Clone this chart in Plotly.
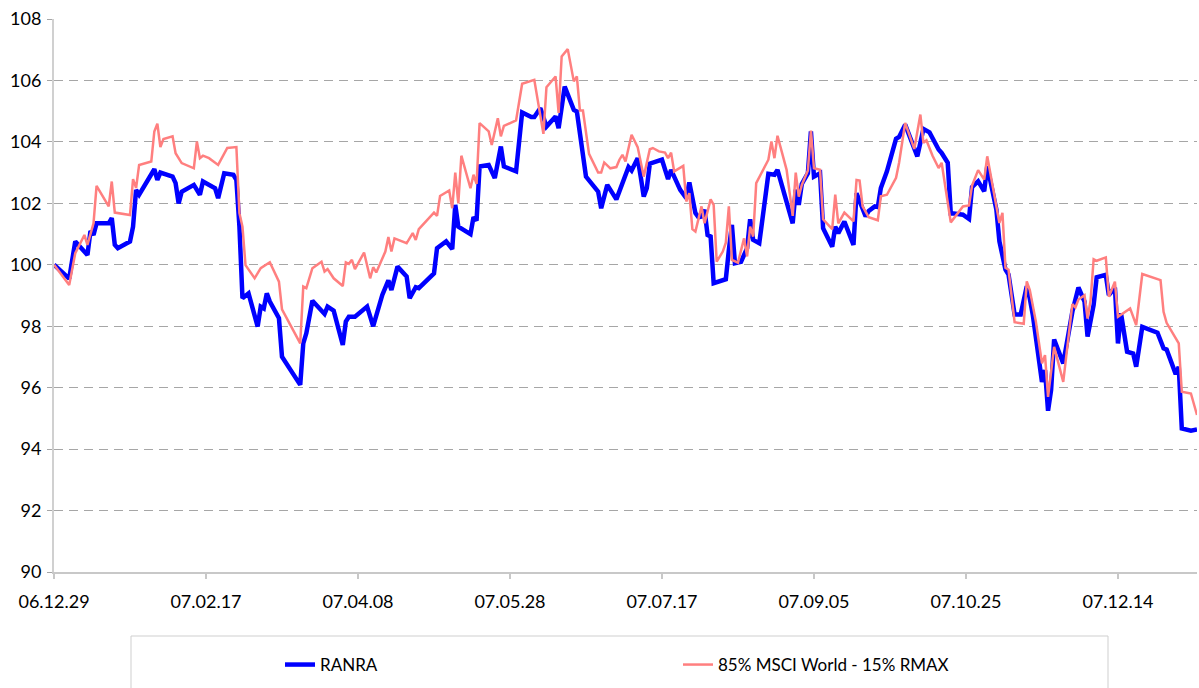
import pandas as pd
import plotly.graph_objects as go

START = "2006-12-29"

# RANRA: days since 2006-12-29 and index values
ranra_days = [0, 5, 7, 11, 12, 13, 14, 18, 19, 20, 21, 25, 26, 27, 28, 33, 34, 35, 39, 40,
              41, 42, 46, 48, 49, 53, 54, 56, 59, 60, 61, 62, 64, 67, 68, 69, 70, 71, 74, 75,
              81, 82, 83, 85, 89, 90, 92, 95, 96, 97, 99, 103, 105, 108, 110, 111, 113, 116, 117, 119,
              120, 125, 126, 129, 131, 132, 133, 137, 138, 139, 140, 143, 145, 147, 148, 152, 154, 157, 158, 160,
              162, 165, 166, 168, 171, 172, 175, 178, 179, 180, 182, 185, 189, 190, 192, 193, 194, 195, 196, 200,
              202, 203, 204, 206, 208, 209, 211, 212, 213, 214, 215, 216, 217, 221, 222, 223, 224, 226, 228, 229,
              230, 232, 235, 237, 238, 241, 243, 244, 245, 246, 248, 249, 250, 252, 253, 256, 257, 258, 260, 263,
              264, 267, 268, 270, 271, 272, 274, 277, 278, 280, 284, 286, 288, 291, 292, 294, 295, 296, 299, 301,
              302, 304, 306, 307, 310, 311, 313, 314, 316, 318, 320, 321, 322, 325, 326, 327, 328, 329, 332, 335,
              337, 339, 340, 342, 343, 346, 347, 349, 350, 351, 353, 355, 356, 358, 363, 365, 366, 369, 370, 371,
              374, 376]
ranra_vals = [100.0, 99.55, 100.76, 100.32, 101.1, 100.97, 101.35, 101.35, 101.52, 100.65, 100.54, 100.76, 101.24, 102.44, 102.28, 103.11, 102.76, 103.0, 102.87, 102.66,
              102.0, 102.38, 102.6, 102.28, 102.71, 102.49, 102.17, 102.98, 102.93, 102.76, 101.24, 98.91, 99.07, 97.99, 98.64, 98.58, 99.07, 98.8, 98.26, 97.01,
              96.09, 97.44, 97.77, 98.83, 98.4, 98.64, 98.51, 97.39, 98.15, 98.31, 98.31, 98.64, 98.0, 99.02, 99.49, 99.18, 99.94, 99.62, 98.91, 99.27,
              99.24, 99.72, 100.54, 100.76, 100.51, 101.95, 101.24, 101.0, 101.55, 101.44, 103.2, 103.25, 102.82, 103.85, 103.2, 103.04, 104.96, 104.81, 104.81, 105.1,
              104.5, 104.83, 104.45, 105.8, 105.04, 104.99, 102.87, 102.46, 102.38, 101.84, 102.6, 102.13, 103.18, 103.07, 103.47, 102.87, 102.22, 102.49, 103.29, 103.42,
              102.79, 103.09, 102.87, 102.44, 102.17, 102.68, 101.68, 101.55, 101.57, 101.79, 100.97, 100.92, 99.4, 99.53, 100.48, 101.3, 100.05, 100.1, 100.54, 101.48,
              100.81, 100.7, 102.96, 102.93, 103.09, 102.11, 101.35, 102.44, 101.95, 102.63, 102.98, 104.34, 102.87, 102.98, 101.19, 100.59, 101.24, 101.03, 101.41, 100.65,
              102.33, 101.57, 101.75, 101.9, 101.88, 102.5, 103.04, 104.1, 104.16, 104.56, 103.53, 104.42, 104.31, 103.75, 103.64, 103.32, 101.67, 101.67, 101.63, 101.49,
              102.53, 102.72, 102.39, 103.21, 101.8, 100.76, 99.84, 99.68, 98.38, 98.38, 99.3, 98.9, 98.36, 96.19, 96.57, 95.25, 95.92, 97.57, 96.79, 98.47,
              99.26, 98.8, 97.66, 98.69, 99.59, 99.67, 99.01, 99.26, 97.44, 98.42, 97.17, 97.11, 96.68, 97.98, 97.79, 97.28, 97.24, 96.44, 96.68, 94.67,
              94.6, 94.64]

# 85% MSCI World - 15% RMAX
bench_days = [0, 5, 7, 10, 11, 13, 14, 18, 19, 20, 25, 26, 27, 28, 32, 33, 34, 35, 36, 39,
              40, 42, 46, 47, 48, 49, 51, 54, 57, 60, 61, 62, 63, 66, 68, 71, 74, 75, 81, 82,
              83, 85, 88, 89, 90, 92, 95, 96, 97, 98, 99, 102, 104, 105, 106, 109, 110, 111, 112, 116,
              118, 119, 120, 125, 126, 127, 130, 131, 132, 133, 134, 137, 138, 139, 140, 143, 144, 146, 147, 148,
              152, 153, 154, 158, 159, 161, 162, 165, 166, 167, 169, 171, 172, 173, 174, 176, 179, 180, 181, 183,
              185, 186, 187, 188, 190, 192, 194, 196, 197, 199, 201, 202, 203, 204, 207, 208, 209, 210, 211, 213,
              214, 216, 217, 218, 220, 221, 222, 223, 225, 227, 228, 229, 230, 231, 235, 236, 237, 238, 241, 243,
              244, 245, 246, 248, 249, 250, 252, 253, 256, 257, 258, 260, 263, 264, 265, 266, 268, 271, 272, 274,
              277, 278, 280, 283, 285, 286, 287, 289, 291, 292, 295, 299, 301, 302, 304, 306, 307, 311, 312, 313,
              314, 316, 319, 320, 321, 323, 325, 326, 327, 329, 332, 335, 336, 337, 339, 340, 341, 342, 343, 346,
              347, 349, 350, 354, 356, 358, 364, 365, 366, 370, 371, 374, 376]
bench_vals = [100.0, 99.34, 100.38, 100.97, 100.65, 101.35, 102.57, 101.9, 102.71, 101.7, 101.62, 102.79, 102.5, 103.25, 103.36, 104.34, 104.59, 103.83, 104.09, 104.18,
              103.63, 103.31, 103.14, 104.01, 103.47, 103.55, 103.47, 103.25, 103.8, 103.83, 101.68, 101.24, 99.99, 99.56, 99.89, 100.08, 99.45, 98.55, 97.44, 99.29,
              99.24, 99.89, 100.1, 99.78, 99.86, 99.56, 99.31, 100.08, 100.03, 100.16, 99.86, 100.4, 99.56, 99.92, 99.75, 100.43, 100.9, 100.43, 100.86, 100.7,
              101.03, 100.81, 101.16, 101.7, 101.59, 102.24, 102.42, 101.84, 103.0, 102.0, 103.55, 102.49, 102.93, 102.63, 104.61, 104.34, 103.9, 104.77, 104.18, 104.52,
              104.7, 105.32, 105.89, 106.02, 105.4, 104.26, 105.78, 106.13, 104.94, 106.78, 107.02, 105.97, 106.13, 105.02, 105.02, 103.61, 103.0, 103.0, 103.33, 103.14,
              103.18, 103.42, 103.58, 103.36, 104.23, 103.83, 102.87, 103.76, 103.8, 103.69, 103.65, 103.47, 103.65, 103.04, 103.22, 102.06, 102.33, 101.16, 101.08, 101.9,
              101.35, 102.13, 101.95, 100.1, 100.43, 100.72, 101.9, 100.16, 100.07, 100.86, 100.27, 101.24, 100.92, 102.66, 103.42, 104.01, 103.47, 104.2, 103.09, 101.59,
              103.0, 102.22, 102.6, 103.07, 104.37, 103.14, 103.09, 101.48, 101.16, 102.28, 101.35, 101.7, 101.41, 102.76, 102.74, 101.9, 101.55, 101.45, 102.23, 102.28,
              102.83, 103.32, 104.62, 103.77, 104.89, 103.97, 104.05, 103.55, 103.15, 103.32, 101.38, 101.9, 101.93, 102.58, 103.08, 102.77, 103.53, 101.36, 101.69, 99.9,
              99.84, 98.13, 98.08, 99.46, 99.18, 98.15, 96.79, 97.06, 95.7, 97.33, 96.19, 98.72, 98.61, 98.87, 99.01, 98.25, 98.85, 100.18, 100.13, 100.24,
              98.96, 99.45, 98.31, 98.58, 98.04, 99.7, 99.5, 98.47, 98.11, 97.44, 95.87, 95.81, 95.11]

series_names = ["RANRA", "85% MSCI World - 15% RMAX"]
y_ticks = [90, 92, 94, 96, 98, 100, 102, 104, 106, 108]

start = pd.Timestamp(START)
ranra_dates = start + pd.to_timedelta(ranra_days, unit="D")
bench_dates = start + pd.to_timedelta(bench_days, unit="D")
end = start + pd.to_timedelta(max(ranra_days[-1], bench_days[-1]), unit="D")

FONT = "Lato"
W, H = 1199, 688
ML, MR, MT, MB = 54, 2, 19, 116
PW, PH = W - ML - MR, H - MT - MB

def px_x(p):
    return (p - ML) / PW

def px_y(p):
    return (H - MB - p) / PH

fig = go.Figure()
fig.add_trace(go.Scatter(x=ranra_dates, y=ranra_vals, mode="lines", name=series_names[0],
                         line=dict(color="#0000FF", width=4.5)))
fig.add_trace(go.Scatter(x=bench_dates, y=bench_vals, mode="lines", name=series_names[1],
                         line=dict(color="#FF7F7F", width=2.5)))

# legend frame
fig.add_shape(type="rect", xref="paper", yref="paper",
              x0=px_x(131), x1=px_x(1108), y0=px_y(636), y1=px_y(720),
              line=dict(color="#CFCFCF", width=1), fillcolor="rgba(0,0,0,0)")

fig.update_layout(
    width=W, height=H,
    margin=dict(l=ML, r=MR, t=MT, b=MB, autoexpand=False),
    paper_bgcolor="white", plot_bgcolor="white",
    font=dict(family=FONT, size=18, color="#000000"),
    showlegend=True,
    legend=dict(orientation="h", x=px_x(280), xanchor="left", y=px_y(665), yanchor="middle",
                entrywidth=353, entrywidthmode="pixels",
                font=dict(family=FONT, size=17, color="#000000"),
                bgcolor="rgba(0,0,0,0)", borderwidth=0),
    xaxis=dict(type="date", range=[start, end], tick0=start, dtick=50 * 86400000,
               tickformat="%y.%m.%d", showgrid=False, zeroline=False,
               showline=True, linecolor="#C8C8C8", linewidth=1.5,
               ticks="outside", ticklen=5, tickcolor="#C8C8C8", tickwidth=1.5,
               ticklabelstandoff=8, tickfont=dict(family=FONT, size=18)),
    yaxis=dict(range=[90, 108], tickvals=y_ticks, showgrid=True,
               gridcolor="#A6A6A6", gridwidth=1, griddash="9px,6px", zeroline=False,
               showline=True, linecolor="#D0D0D0", linewidth=2,
               ticks="outside", ticklen=5, tickcolor="#A6A6A6", tickwidth=1,
               ticklabelstandoff=2, tickfont=dict(family=FONT, size=18)),
)

fig.write_html("out.html", config={"displayModeBar": False},
               post_script="document.body.style.margin='0px';document.body.style.overflow='hidden';")
